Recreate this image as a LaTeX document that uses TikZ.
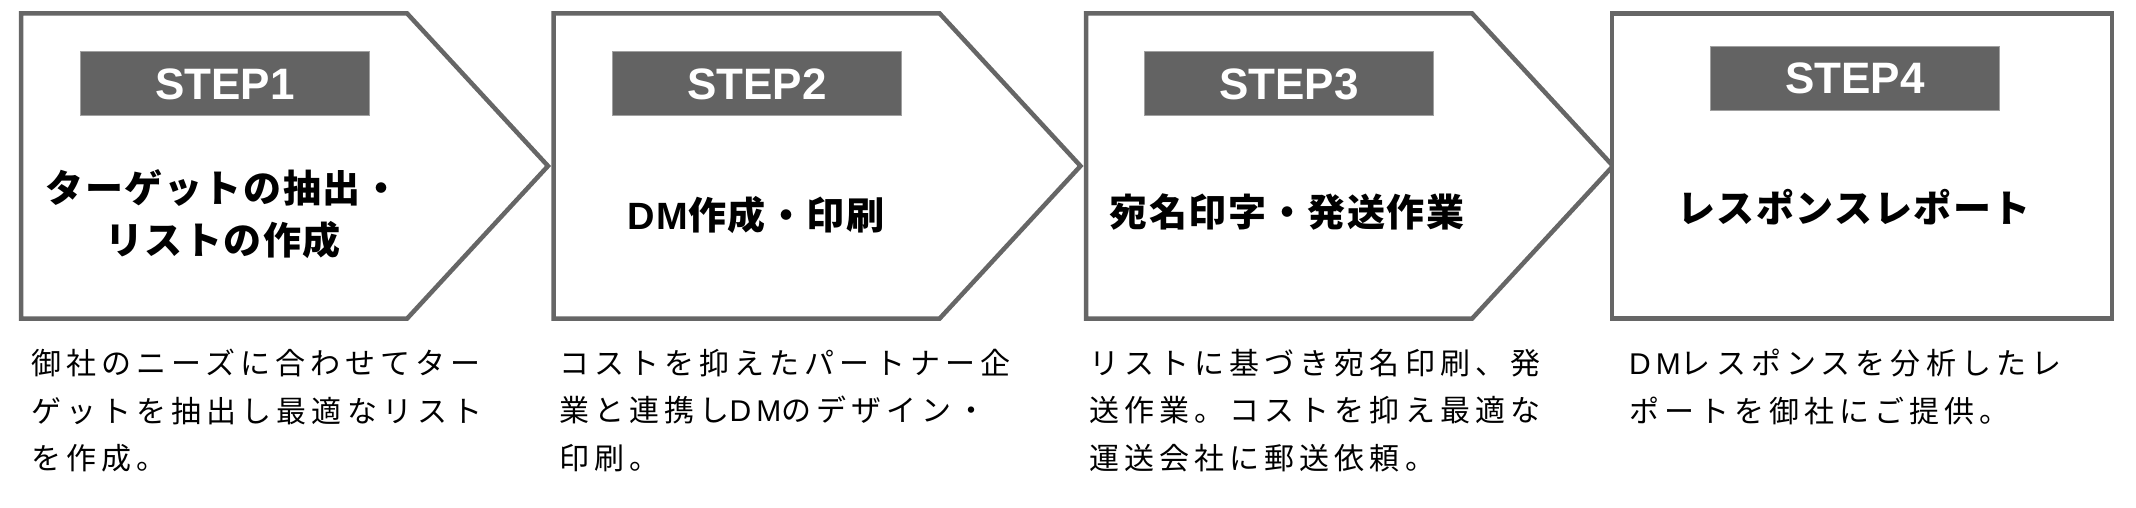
\documentclass[tikz,border=0pt]{standalone}
\usepackage{fontspec}
\newfontfamily\stepfont{Liberation Sans}
\newfontfamily\titlefont[LetterSpace=4]{Noto Sans CJK JP}
\newfontfamily\titlelat[LetterSpace=4]{Liberation Sans}
\newfontfamily\descfont[LetterSpace=17]{Noto Sans CJK JP}
\newfontfamily\desclat[LetterSpace=17]{Liberation Sans}
\newcommand\dmtitle{{\titlelat\bfseries DM}}
\newcommand\dmdesc{{\desclat DM}}
\definecolor{linegray}{RGB}{102,102,102}
\definecolor{labelgray}{RGB}{99,99,99}
\definecolor{bordergray}{RGB}{160,160,160}
\tikzset{
  stepshape/.style = {draw=linegray, line width=4.5bp, fill=white},
  steplabel/.style = {fill=labelgray, draw=bordergray, line width=1bp,
    minimum width=289bp, minimum height=64bp, inner sep=0, text=white,
    font=\stepfont\bfseries\fontsize{44bp}{44bp}\selectfont},
  steptitle/.style = {inner sep=0, align=center,
    font=\titlefont\bfseries\fontsize{38bp}{52bp}\selectfont},
  stepdesc/.style = {inner sep=0, align=left, anchor=north west,
    font=\descfont\fontsize{30bp}{47.5bp}\selectfont}
}

\begin{document}
\begin{tikzpicture}[x=1bp,y=-1bp]
  \useasboundingbox (0,0) rectangle (2136,508);
  % chevrons and last box
  \foreach \X in {21,553.5,1086} {
    \draw[stepshape] (\X,13.3) -- ++(386,0) -- ++(141,152.7)
      -- ++(-141,152.7) -- ++(-386,0) -- cycle;
  }
  \draw[stepshape] (1612,13.3) rectangle (2112,318.7);
  % step labels
  \node[steplabel] (step1) at (225,84) {STEP1};
  \node[steplabel] (step2) at (757,84) {STEP2};
  \node[steplabel] (step3) at (1289,84) {STEP3};
  \node[steplabel] (step4) at (1855,78.5) {STEP4};
  % titles
  \node[steptitle, anchor=north] (title1) at (223,169) {ターゲットの抽出・\\リストの作成};
  \node[steptitle, anchor=north] (title2) at (756,196) {\dmtitle 作成・印刷};
  \node[steptitle, anchor=north] (title3) at (1287,194) {宛名印字・発送作業};
  \node[steptitle, anchor=north] (title4) at (1854,189) {レスポンスレポート};
  % descriptions
  \node[stepdesc] (desc1) at (31,349) {御社のニーズに合わせてター\\ゲットを抽出し最適なリスト\\を作成。};
  \node[stepdesc] (desc2) at (559,349) {コストを抑えたパートナー企\\業と連携し\dmdesc のデザイン・\\印刷。};
  \node[stepdesc] (desc3) at (1089,349) {リストに基づき宛名印刷、発\\送作業。コストを抑え最適な\\運送会社に郵送依頼。};
  \node[stepdesc] (desc4) at (1629,349) {\dmdesc レスポンスを分析したレ\\ポートを御社にご提供。};
\end{tikzpicture}
\end{document}
